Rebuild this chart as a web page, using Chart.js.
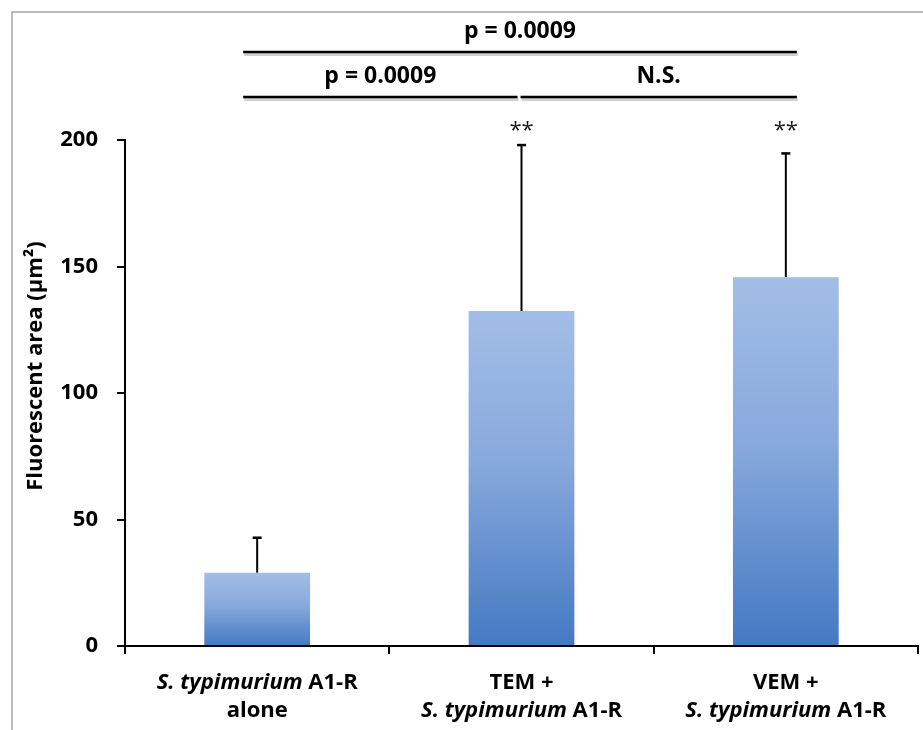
<!DOCTYPE html>
<html>
<head>
<meta charset="utf-8">
<script src="https://cdn.jsdelivr.net/npm/chart.js@4.4.1/dist/chart.umd.min.js"></script>
<style>
  html, body { margin: 0; padding: 0; background: #fff; }
  #wrap { width: 923px; height: 730px; }
</style>
</head>
<body>
<div id="wrap"><canvas id="chart" width="923" height="730"></canvas></div>
<script>
const categories = ["S. typimurium A1-R\nalone", "TEM +\nS. typimurium A1-R", "VEM +\nS. typimurium A1-R"];
const means = [29.0, 132.4, 145.8];
const errors = [13.8, 65.6, 48.9];
const stars = ["", "**", "**"];
const yTicks = [0, 50, 100, 150, 200];
const yTitle = "Fluorescent area (µm²)";

// significance brackets
const pairFrom = [0, 1, 0];
const pairTo = [1, 2, 2];
const pairText = ["p = 0.0009", "N.S.", "p = 0.0009"];
const pairTier = [0, 0, 1];

const ITALIC = "S. typimurium";
const FONT = "'Open Sans', 'DejaVu Sans', sans-serif";

const frame = {
  id: "frame",
  beforeDraw(chart) {
    const c = chart.ctx;
    c.save();
    c.fillStyle = "#fff";
    c.fillRect(0, 0, chart.width, chart.height);
    c.strokeStyle = "#a6a6a6";
    c.lineWidth = 1.5;
    c.strokeRect(12, 12, chart.width + 10, chart.height + 10);
    c.restore();
  }
};

const extras = {
  id: "extras",
  afterDatasetsDraw(chart) {
    const c = chart.ctx;
    const xs = chart.scales.x, ys = chart.scales.y;
    const meta = chart.getDatasetMeta(0);
    c.save();

    // axis line on top of bars
    c.strokeStyle = "#000";
    c.lineWidth = 2;
    c.beginPath();
    c.moveTo(chart.chartArea.left, ys.getPixelForValue(0));
    c.lineTo(chart.chartArea.right, ys.getPixelForValue(0));
    c.stroke();

    // error bars (upper only) and stars
    meta.data.forEach((bar, i) => {
      const top = ys.getPixelForValue(means[i] + errors[i]);
      c.lineWidth = 2;
      c.beginPath();
      c.moveTo(bar.x, bar.y);
      c.lineTo(bar.x, top);
      c.stroke();
      c.lineWidth = 2.5;
      c.beginPath();
      c.moveTo(bar.x - 4.5, top);
      c.lineTo(bar.x + 4.5, top);
      c.stroke();
      if (stars[i]) {
        c.fillStyle = "#1a1a1a";
        c.font = "22px " + FONT;
        c.textAlign = "center";
        c.textBaseline = "middle";
        c.fillText(stars[i], bar.x, 131);
      }
    });

    // brackets
    const lineY = [97, 52], textY = [76, 31];
    const last = categories.length - 1;
    pairFrom.forEach((f, k) => {
      const t = pairTo[k], tier = pairTier[k];
      const left = xs.getPixelForValue(f) + (f === 0 ? -14 : -1);
      const right = xs.getPixelForValue(t) + (t === last ? 11 : -4);
      const y = lineY[tier];
      c.strokeStyle = "rgba(0,0,0,0.18)";
      c.lineWidth = 3;
      c.beginPath(); c.moveTo(left + 1, y + 2.5); c.lineTo(right + 1, y + 2.5); c.stroke();
      c.strokeStyle = "#000";
      c.lineWidth = 2.5;
      c.beginPath(); c.moveTo(left, y); c.lineTo(right, y); c.stroke();
      c.fillStyle = "#000";
      c.font = "bold 23px " + FONT;
      c.textAlign = "center";
      c.textBaseline = "middle";
      c.fillText(pairText[k], (left + right) / 2, textY[tier]);
    });

    // category labels with italic species name
    c.fillStyle = "#000";
    c.textBaseline = "middle";
    c.textAlign = "left";
    categories.forEach((lab, i) => {
      const cx = xs.getPixelForValue(i);
      lab.split("\n").forEach((line, j) => {
        const parts = [];
        const at = line.indexOf(ITALIC);
        if (at >= 0) {
          if (at > 0) parts.push([line.slice(0, at), false]);
          parts.push([ITALIC, true]);
          if (at + ITALIC.length < line.length) parts.push([line.slice(at + ITALIC.length), false]);
        } else parts.push([line, false]);
        let w = 0;
        parts.forEach(p => { c.font = (p[1] ? "italic " : "") + "bold 22px " + FONT; w += c.measureText(p[0]).width; });
        let x = cx - w / 2;
        const y = 683 + j * 28;
        parts.forEach(p => {
          c.font = (p[1] ? "italic " : "") + "bold 22px " + FONT;
          c.fillText(p[0], x, y);
          x += c.measureText(p[0]).width;
        });
      });
    });

    // y title
    c.translate(36, 366);
    c.rotate(-Math.PI / 2);
    c.textAlign = "center";
    c.font = "bold 22px " + FONT;
    c.fillText(yTitle, 0, 0);
    c.restore();
  }
};

new Chart(document.getElementById("chart"), {
  type: "bar",
  data: {
    labels: categories,
    datasets: [{
      data: means,
      backgroundColor: (ctx) => {
        const chart = ctx.chart;
        if (!chart.chartArea) return "#7399d3";
        const ys = chart.scales.y;
        const top = ys.getPixelForValue(means[ctx.dataIndex]);
        const bot = ys.getPixelForValue(0);
        const g = chart.ctx.createLinearGradient(0, top, 0, bot);
        g.addColorStop(0, "#a2bee6");
        g.addColorStop(0.45, "#88a9dc");
        g.addColorStop(1, "#4479c2");
        return g;
      },
      borderWidth: 0,
      categoryPercentage: 1,
      barPercentage: 0.4
    }]
  },
  options: {
    responsive: false,
    animation: false,
    devicePixelRatio: 1,
    layout: { padding: { left: 0, right: 5, top: 140, bottom: 0 } },
    plugins: { legend: { display: false }, tooltip: { enabled: false } },
    scales: {
      x: {
        afterFit: (s) => { s.height = 84; },
        ticks: { display: false },
        grid: { drawOnChartArea: false, drawTicks: true, tickLength: 8, color: "#000", lineWidth: 2, offset: true },
        border: { display: true, color: "#000", width: 2 }
      },
      y: {
        min: 0,
        max: 200,
        afterFit: (s) => { s.width = 125; },
        afterBuildTicks: (s) => { s.ticks = yTicks.map(v => ({ value: v })); },
        ticks: { color: "#000", padding: 19, font: { family: FONT, size: 22, weight: "bold" } },
        grid: { drawOnChartArea: false, drawTicks: true, tickLength: 8, color: "#000", lineWidth: 2 },
        border: { display: true, color: "#000", width: 2 }
      }
    }
  },
  plugins: [frame, extras]
});
</script>
</body>
</html>
